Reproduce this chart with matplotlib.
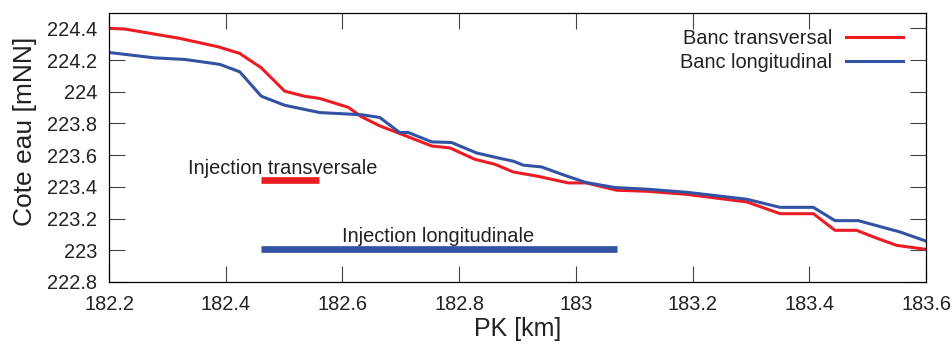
import numpy as np
import matplotlib
matplotlib.use("Agg")
import matplotlib.pyplot as plt
from matplotlib.ticker import FuncFormatter

plt.rcParams['font.family'] = ['Liberation Sans', 'DejaVu Sans']

# profil en long - cote eau
pk_trans = [182.200, 182.227, 182.321, 182.387, 182.424, 182.461, 182.501, 182.535,
            182.561, 182.610, 182.633, 182.664, 182.698, 182.753, 182.784, 182.827,
            182.861, 182.893, 182.935, 182.987, 183.018, 183.070, 183.124, 183.190,
            183.293, 183.350, 183.407, 183.444, 183.481, 183.518, 183.550, 183.600]
cote_trans = [224.400, 224.396, 224.337, 224.284, 224.242, 224.151, 224.004, 223.972,
              223.958, 223.902, 223.842, 223.785, 223.737, 223.658, 223.646, 223.574,
              223.543, 223.494, 223.467, 223.425, 223.425, 223.379, 223.372, 223.353,
              223.305, 223.231, 223.231, 223.126, 223.126, 223.073, 223.031, 223.006]

pk_long = [182.200, 182.278, 182.330, 182.390, 182.424, 182.461, 182.501, 182.561,
           182.633, 182.664, 182.698, 182.713, 182.753, 182.787, 182.830, 182.864,
           182.893, 182.910, 182.941, 182.984, 183.018, 183.067, 183.124, 183.190,
           183.293, 183.350, 183.407, 183.444, 183.484, 183.556, 183.600]
cote_long = [224.248, 224.214, 224.204, 224.173, 224.126, 223.972, 223.915, 223.869,
             223.855, 223.838, 223.743, 223.743, 223.684, 223.680, 223.614, 223.585,
             223.562, 223.537, 223.526, 223.469, 223.427, 223.396, 223.385, 223.366,
             223.322, 223.271, 223.271, 223.187, 223.187, 223.115, 223.058]

# zones d'injection
inj_trans_pk = [182.46, 182.56]
inj_trans_y = 223.442
inj_long_pk = [182.46, 183.07]
inj_long_y = 223.010

xticks = [182.2, 182.4, 182.6, 182.8, 183.0, 183.2, 183.4, 183.6]
yticks = [222.8, 223.0, 223.2, 223.4, 223.6, 223.8, 224.0, 224.2, 224.4]

RED = '#ec1c24'
BLUE = '#3452a4'
TXT = '#222222'

fig = plt.figure(figsize=(9.53, 3.44), dpi=100)
ax = fig.add_axes([109/953, 62/344, 817/953, 269/344])

ax.plot(pk_trans, cote_trans, color=RED, lw=2.2, label="Banc transversal")
ax.plot(pk_long, cote_long, color=BLUE, lw=2.2, label="Banc longitudinal")

ax.plot(inj_trans_pk, [inj_trans_y]*2, color=RED, lw=4.8, solid_capstyle='butt')
ax.plot(inj_long_pk, [inj_long_y]*2, color=BLUE, lw=4.8, solid_capstyle='butt')
ax.text(182.335, 223.484, "Injection transversale", fontsize=14.4, color=TXT, ha='left', va='baseline')
ax.text(182.599, 223.052, "Injection longitudinale", fontsize=14.4, color=TXT, ha='left', va='baseline')

ax.set_xlim(182.2, 183.6)
ax.set_ylim(222.8, 224.497)
ax.set_xticks(xticks)
ax.set_yticks(yticks)
fmt = FuncFormatter(lambda v, p: f"{round(v, 1):g}")
ax.xaxis.set_major_formatter(fmt)
ax.yaxis.set_major_formatter(fmt)
ax.tick_params(direction='in', length=11.5, width=0.8, color='#444444',
               top=True, right=True, labelsize=14.4, labelcolor=TXT)
ax.tick_params(axis='x', pad=9.5)
ax.tick_params(axis='y', pad=8.6)
for s in ax.spines.values():
    s.set_linewidth(0.9)
    s.set_color('black')

ax.set_xlabel("PK [km]", fontsize=18, color=TXT)
ax.set_ylabel("Cote eau [mNN]", fontsize=19, color=TXT)
ax.xaxis.set_label_coords(0.5, -0.129)
ax.yaxis.set_label_coords(-0.088, 0.56)

ax.legend(loc='upper right', bbox_to_anchor=(0.972, 0.939), frameon=False,
          markerfirst=False, fontsize=14.4, handlelength=2.85, handletextpad=0.7,
          borderpad=0, borderaxespad=0, labelspacing=0.22, labelcolor=TXT)

fig.savefig("out.png", dpi=100)
